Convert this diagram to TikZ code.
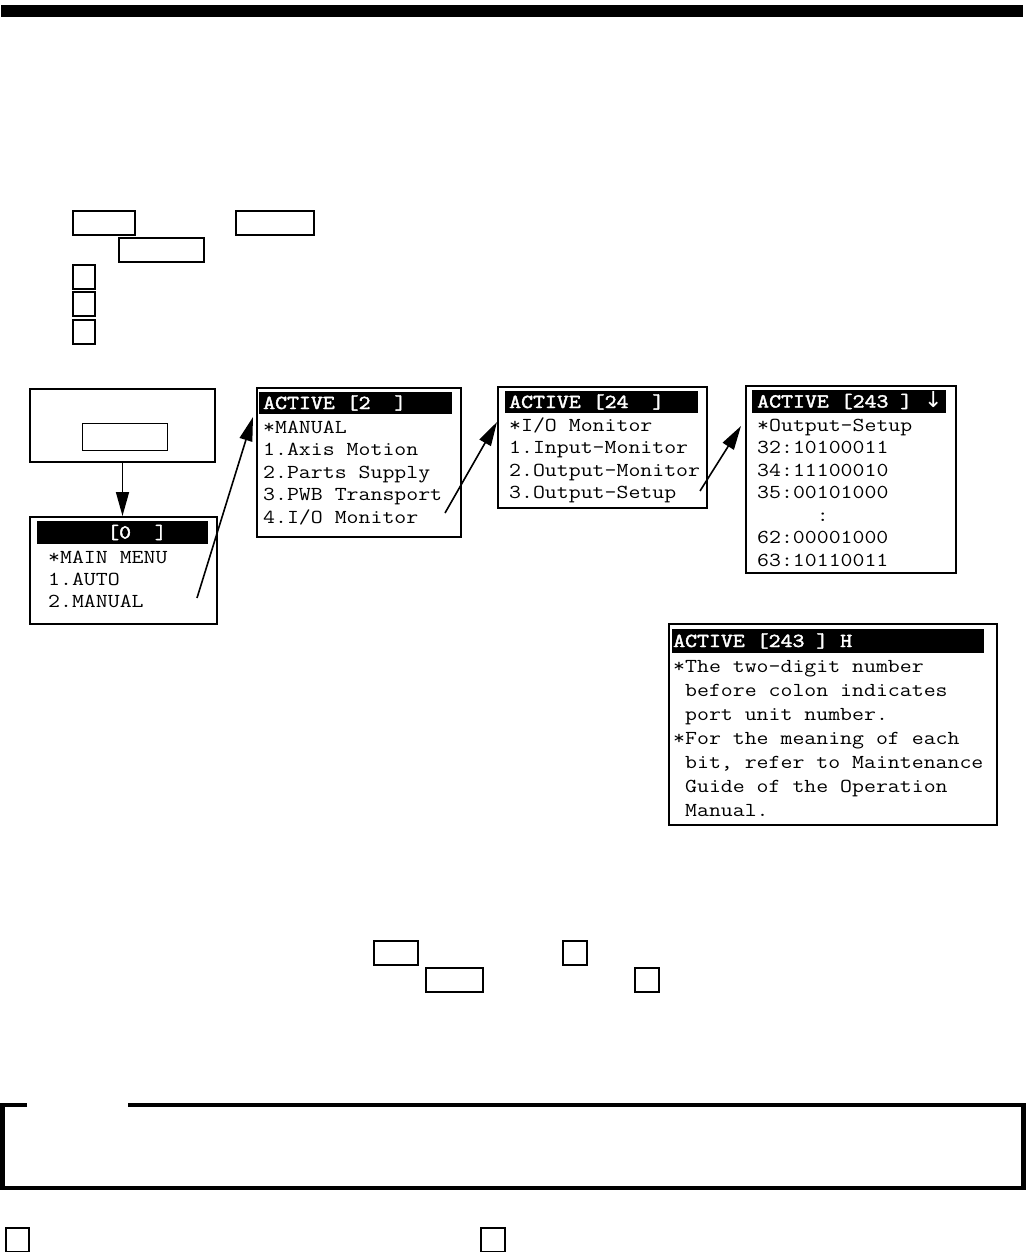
\documentclass[tikz,border=0pt]{standalone}
\usepackage{fontspec}
\setmainfont{Liberation Serif}
\newfontfamily\lcdfont[FakeStretch=1.17]{Latin Modern Mono}
\newfontfamily\lcdbfont[FakeStretch=1.17,FakeBold=2.2]{Latin Modern Mono}
\newfontfamily\arrowfont{DejaVu Sans}
\usetikzlibrary{arrows.meta}
\begin{document}
\begin{tikzpicture}[x=1pt,y=-1pt,
  frame/.style={draw=black, line width=2pt, anchor=north west, inner sep=0pt},
  keybox/.style={draw=black, line width=1.8pt, anchor=north west, inner sep=0pt, minimum height=24pt},
  hdrbar/.style={fill=black, anchor=north west, inner sep=0pt},
  hdr/.style={anchor=base west, inner sep=0pt, text=white, font=\lcdbfont\fontsize{19.8pt}{22pt}\selectfont},
  body/.style={anchor=base west, inner sep=0pt, font=\lcdfont\fontsize{19.8pt}{22pt}\selectfont},
  link/.style={line width=1.6pt, -{Triangle[length=24pt,width=13pt]}}]
\path[use as bounding box] (0,0) rectangle (1026,1252);

% top rule
\fill[black] (1,5) rectangle (1023,17);

% key boxes in the instructions
\node[keybox, minimum width=62pt] (kA1) at (72,210) {};
\node[keybox, minimum width=78pt] (kA2) at (235,210) {};
\node[keybox, minimum width=85pt] (kA3) at (118,237) {};
\node[keybox, minimum width=22pt] (kS1) at (72,264) {};
\node[keybox, minimum width=22pt] (kS2) at (72,291) {};
\node[keybox, minimum width=22pt] (kS3) at (72,319) {};

% operation panel
\node[frame, minimum width=185pt, minimum height=73pt] (panel) at (29,388) {};
\node[keybox, line width=1.4pt, minimum width=85pt, minimum height=27pt] (pkey) at (82,423) {};

% screen A : main menu
\node[frame, minimum width=187pt, minimum height=107pt] (scrA) at (29,516) {};
\node[hdrbar, minimum width=171pt, minimum height=23pt] (hA) at (37,521) {};
\node[hdr] (hAt) at (107,538.5) {[0~~]};
\node[body] (a1) at (48,563) {*MAIN MENU};
\node[body] (a2) at (48,585) {1.AUTO};
\node[body] (a3) at (48,607) {2.MANUAL};

% screen B : manual
\node[frame, minimum width=204pt, minimum height=149pt] (scrB) at (256,387) {};
\node[hdrbar, minimum width=193pt, minimum height=22pt] (hB) at (259,392) {};
\node[hdr] (hBt) at (263,409) {ACTIVE [2~~]};
\node[body] (b1) at (263,433) {*MANUAL};
\node[body] (b2) at (263,455.5) {1.Axis Motion};
\node[body] (b3) at (263,478) {2.Parts Supply};
\node[body] (b4) at (263,500.5) {3.PWB Transport};
\node[body] (b5) at (263,523) {4.I/O Monitor};

% screen C : I/O monitor
\node[frame, minimum width=209pt, minimum height=121pt] (scrC) at (497,386) {};
\node[hdrbar, minimum width=193pt, minimum height=22pt] (hC) at (505,391) {};
\node[hdr] (hCt) at (509,408) {ACTIVE [24~~]};
\node[body] (c1) at (509,431) {*I/O Monitor};
\node[body] (c2) at (509,453.5) {1.Input-Monitor};
\node[body] (c3) at (509,476) {2.Output-Monitor};
\node[body] (c4) at (509,498.5) {3.Output-Setup};

% screen D : output setup
\node[frame, minimum width=210pt, minimum height=187pt] (scrD) at (745,385) {};
\node[hdrbar, minimum width=194pt, minimum height=23pt] (hD) at (752,390) {};
\node[hdr] (hDt) at (757,407.5) {ACTIVE [243 ]~{\arrowfont\fontsize{22pt}{22pt}\selectfont↓}};
\node[body] (d1) at (757,431) {*Output-Setup};
\node[body] (d2) at (757,453.5) {32:10100011};
\node[body] (d3) at (757,476) {34:11100010};
\node[body] (d4) at (757,498.5) {35:00101000};
\node[body] (d5) at (757,521) {~~~~~:};
\node[body] (d6) at (757,543.5) {62:00001000};
\node[body] (d7) at (757,566) {63:10110011};

% screen E : help
\node[frame, minimum width=328pt, minimum height=201pt] (scrE) at (668,623) {};
\node[hdrbar, minimum width=312pt, minimum height=24pt] (hE) at (672,629) {};
\node[hdr] (hEt) at (673,647) {ACTIVE [243 ] H};
\node[body] (e1) at (673,672) {*The two-digit number};
\node[body] (e2) at (673,696) {~before colon indicates};
\node[body] (e3) at (673,720) {~port unit number.};
\node[body] (e4) at (673,744) {*For the meaning of each};
\node[body] (e5) at (673,768) {~bit, refer to Maintenance};
\node[body] (e6) at (673,792) {~Guide of the Operation};
\node[body] (e7) at (673,816) {~Manual.};

% connectors
\coordinate (sA) at (197,598);
\coordinate (tB) at (253,417);
\coordinate (sB) at (445,513);
\coordinate (tC) at (497,422);
\coordinate (sC) at (700,491);
\coordinate (tD) at (741,426);
\draw[link] (panel.south) -- (panel.south |- scrA.north);
\draw[link] (sA) -- (tB);
\draw[link] (sB) -- (tC);
\draw[link] (sC) -- (tD);

% key boxes in the text below
\node[keybox, minimum width=44pt] (kB1) at (373,940) {};
\node[keybox, minimum width=57pt] (kB2) at (425,967) {};
\node[keybox, minimum width=24pt] (kB3) at (562,940) {};
\node[keybox, minimum width=24pt] (kB4) at (634,967) {};

% note frame
\draw[line width=4.5pt] (27,1105) -- (2.5,1105) -- (2.5,1188) -- (1023.5,1188) -- (1023.5,1105) -- (128,1105);

% bottom key boxes
\node[keybox, minimum width=23pt, minimum height=24pt] (kC1) at (5,1227) {};
\node[keybox, minimum width=24pt, minimum height=24pt] (kC2) at (480,1227) {};
\end{tikzpicture}
\end{document}
